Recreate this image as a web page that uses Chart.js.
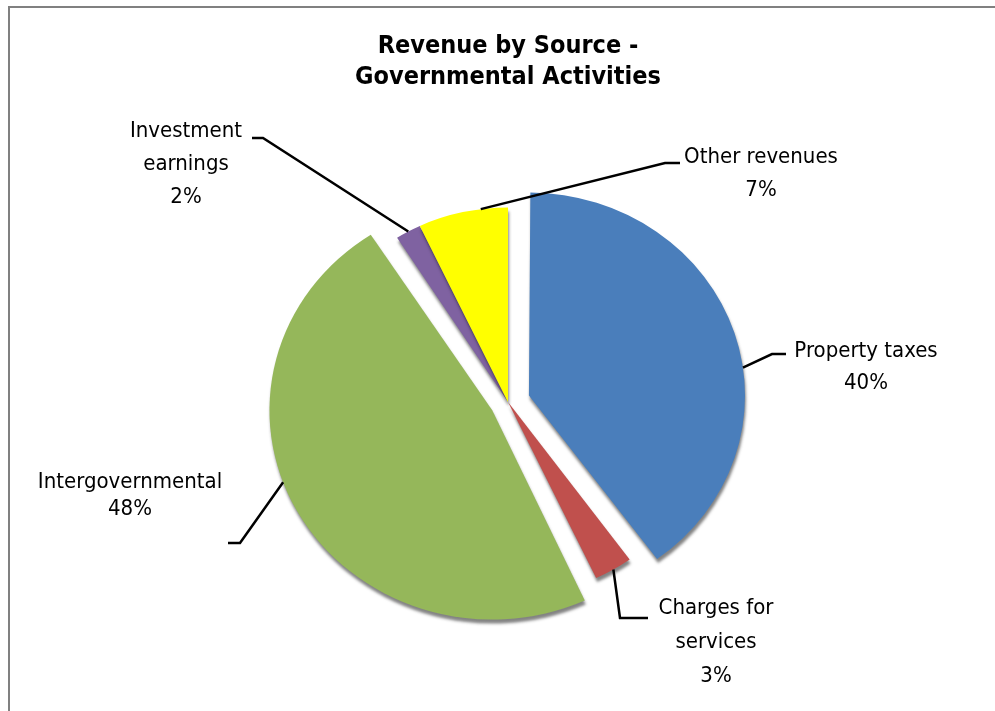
<!DOCTYPE html>
<html>
<head>
<meta charset="utf-8">
<script src="https://cdn.jsdelivr.net/npm/chart.js@4"></script>
<style>
  html, body { margin: 0; padding: 0; background: #fff; }
  #wrap { position: relative; width: 995px; height: 711px; }
  #wrap canvas { position: absolute; left: 0; top: 0; }
  #frame { position: absolute; left: 8px; top: 6px; right: 0; bottom: 0;
           border-left: 2px solid #808080; border-top: 2px solid #808080; pointer-events: none; }
</style>
</head>
<body>
<div id="wrap">
  <canvas id="chart" width="995" height="711"></canvas>
  <div id="frame"></div>
</div>
<script>
// data
const chartTitle = ['Revenue by Source -', 'Governmental Activities'];
const categories = [['Property taxes'], ['Charges for', 'services'], ['Intergovernmental'], ['Investment', 'earnings'], ['Other revenues']];
const percentages = [40, 3, 48, 2, 7];

// look
const sliceColors = ['#4a7ebb', '#c0504d', '#95b75a', '#7f62a1', '#ffff00'];
const explodePx = [22, 0, 18, 0, 0];
const tilt = 0.94; // flatten the pie a bit, the original is a tilted 3d pie
const fontFamily = "'DejaVu Sans Condensed', 'Liberation Sans Narrow', 'DejaVu Sans', sans-serif";

// label placement: text centre, gap between lines, leader elbow + end, where on the slice the leader starts
const labelSpots = [
  { x: 866, y: 351, gap: 32, elbow: [772, 354], end: [786, 354], along: 0.57 },
  { x: 716, y: 608, gap: 34, elbow: [620, 618], end: [648, 618], along: 0.5 },
  { x: 130, y: 482, gap: 27, elbow: [240, 543], end: [228, 543], along: 0.55 },
  { x: 186, y: 131, gap: 33, elbow: [263, 138], end: [252, 138], along: 0.5 },
  { x: 761, y: 157, gap: 33, elbow: [665, 163], end: [680, 163], along: 0.7 }
];

const ctx = document.getElementById('chart').getContext('2d');

// squash the arcs vertically and give them a dark rim underneath
const tiltPlugin = {
  id: 'tilt',
  beforeDatasetsDraw(chart) {
    let c = chart.ctx, a = chart.chartArea;
    let cx = (a.left + a.right) / 2, cy = (a.top + a.bottom) / 2;
    c.save();
    c.translate(cx, cy);
    c.scale(1, tilt);
    c.translate(-cx, -cy);
    c.shadowColor = 'rgba(30,30,30,0.55)';
    c.shadowOffsetY = 4;
    c.shadowOffsetX = 1;
    c.shadowBlur = 3;
  },
  afterDatasetsDraw(chart) {
    chart.ctx.restore();
  }
};

// labels with leader lines
const labelPlugin = {
  id: 'sliceLabels',
  afterDraw(chart) {
    let c = chart.ctx;
    let arcs = chart.getDatasetMeta(0).data;
    c.save();
    c.strokeStyle = '#000';
    c.lineWidth = 2.5;
    c.fillStyle = '#000';
    c.font = '22px ' + fontFamily;
    c.textAlign = 'center';
    c.textBaseline = 'middle';
    for (let i = 0; i < arcs.length; i++) {
      let arc = arcs[i];
      let spot = labelSpots[i];
      let p = arc.getProps(['x', 'y', 'startAngle', 'endAngle', 'outerRadius', 'circumference'], true);
      // same shift chart.js uses for offset slices
      let d = (arc.options.offset || 0) / 4;
      let half = (p.startAngle + p.endAngle) / 2;
      let fix = 1 - Math.sin(Math.min(Math.PI, p.circumference));
      let r = p.outerRadius + d * fix;
      let ang = p.startAngle + spot.along * (p.endAngle - p.startAngle);
      let ax = p.x + Math.cos(half) * d + Math.cos(ang) * r;
      let ay = p.y + Math.sin(half) * d + Math.sin(ang) * r;
      ay = p.y + (ay - p.y) * tilt;

      c.beginPath();
      c.moveTo(ax, ay);
      c.lineTo(spot.elbow[0], spot.elbow[1]);
      c.lineTo(spot.end[0], spot.end[1]);
      c.stroke();

      let lines = categories[i].concat([percentages[i] + '%']);
      lines.forEach((txt, k) => c.fillText(txt, spot.x, spot.y + k * spot.gap));
    }
    c.restore();
  }
};

let pieChart = new Chart(ctx, {
  type: 'pie',
  data: {
    labels: categories.map(l => l.join(' ')),
    datasets: [{
      data: percentages,
      backgroundColor: sliceColors,
      borderWidth: 0,
      offset: explodePx.map(v => v * 4)
    }]
  },
  options: {
    responsive: false,
    animation: false,
    radius: 207,
    layout: { padding: { left: 285, right: 264, top: 25, bottom: 97 } },
    plugins: {
      legend: { display: false },
      tooltip: { enabled: false },
      title: {
        display: true,
        text: chartTitle,
        color: '#000',
        font: { family: fontFamily, size: 25, weight: 'bold', lineHeight: '31px' },
        padding: { top: 6, bottom: 97 }
      }
    }
  },
  plugins: [tiltPlugin, labelPlugin]
});
</script>
</body>
</html>
